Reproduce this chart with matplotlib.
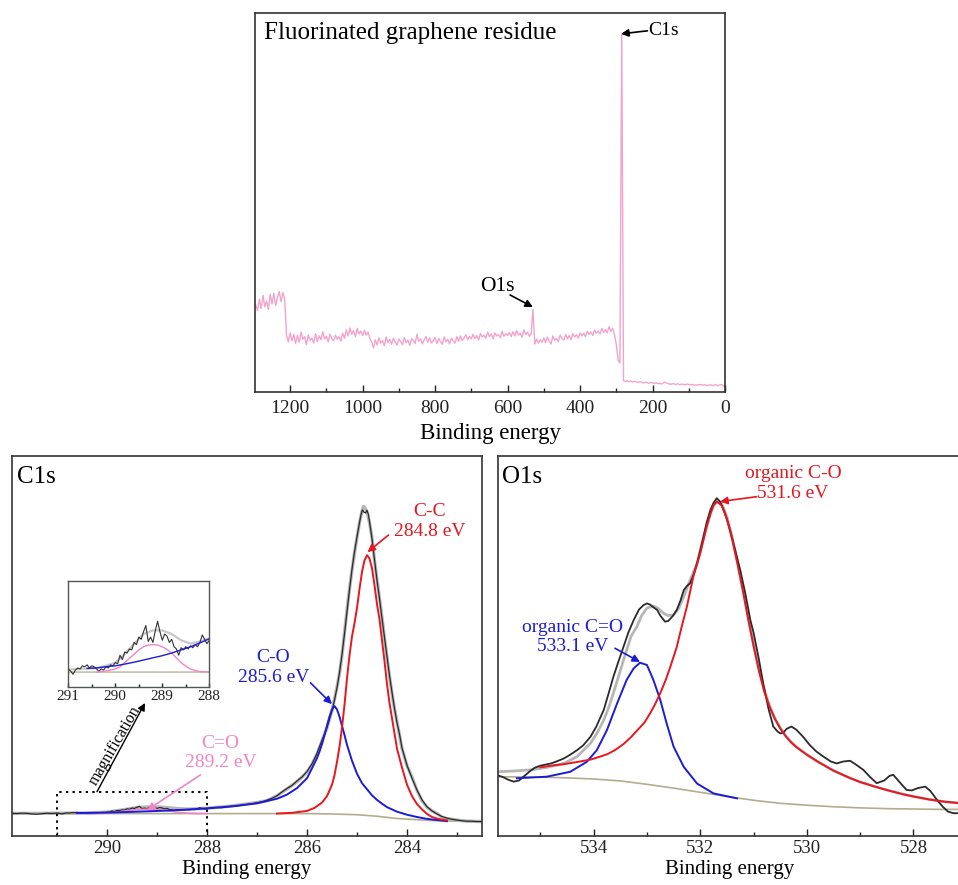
import numpy as np
import matplotlib
matplotlib.use("Agg")
import matplotlib.pyplot as plt
from matplotlib.ticker import MultipleLocator

plt.rcParams['font.family'] = ['Liberation Serif', 'DejaVu Serif']

# ---- survey spectrum (5 eV steps, 1295 eV down to 0 eV) ----
survey_ev = np.arange(1295, -1, -5)
survey_counts = [
    23.0, 21.5, 24.5, 22.0, 25.5, 22.5, 24.0, 21.8, 25.8, 23.2, 26.0, 22.8, 25.0, 26.5, 23.8, 26.2, 24.5, 15.0, 13.2, 15.6,
    13.5, 15.2, 12.8, 14.9, 13.1, 15.8, 13.9, 14.6, 12.5, 15.1, 13.6, 14.2, 12.9, 15.4, 13.3, 14.8, 13.8, 15.9, 14.0, 14.7,
    13.2, 15.3, 14.1, 13.5, 15.0, 13.9, 14.6, 13.4, 15.5, 14.2, 16.4, 14.8, 16.9, 15.2, 16.2, 14.6, 16.8, 15.3, 16.1, 14.9,
    16.3, 15.0, 15.8, 14.1, 13.2, 11.6, 13.8, 12.4, 14.3, 12.9, 13.6, 12.2, 14.5, 13.0, 13.9, 12.6, 14.2, 13.1, 12.4, 14.0,
    13.3, 12.5, 14.4, 13.0, 13.7, 12.3, 14.1, 13.5, 12.8, 15.2, 13.4, 14.0, 12.7, 13.8, 14.6, 13.1, 14.3, 12.9, 13.6, 14.4,
    12.8, 14.1, 13.3, 12.6, 14.5, 13.2, 13.9, 12.7, 14.2, 13.5, 12.9, 14.6, 13.4, 14.8, 13.6, 14.3, 15.1, 13.8, 14.7, 14.0,
    15.2, 14.1, 14.9, 13.7, 15.4, 14.5, 15.0, 14.2, 15.8, 14.6, 15.3, 14.0, 15.6, 14.8, 15.1, 14.3, 16.0, 14.7, 15.4, 14.9,
    15.7, 14.6, 15.9, 14.8, 16.2, 15.0, 15.5, 14.4, 16.4, 15.1, 15.8, 14.7, 15.4, 21.8, 12.6, 14.0, 12.9, 13.8, 13.1, 14.3,
    13.0, 14.5, 13.4, 12.7, 14.8, 13.6, 14.2, 13.3, 15.0, 14.1, 13.7, 15.2, 14.0, 14.9, 13.8, 15.4, 14.5, 15.1, 14.2, 15.6,
    14.8, 15.5, 14.6, 16.0, 15.2, 15.8, 14.9, 16.4, 15.5, 16.1, 15.3, 16.8, 15.7, 16.5, 15.6, 17.2, 16.0, 16.8, 15.2, 12.5,
    8.5, 7.6, 94.6, 3.0, 2.8, 3.0, 2.7, 2.9, 2.6, 2.8, 2.7, 2.5, 2.7, 2.6, 2.4, 2.6, 2.5, 2.3, 2.5, 2.4,
    2.3, 2.4, 2.2, 2.3, 2.1, 2.4, 2.6, 2.3, 2.2, 2.0, 2.2, 2.1, 2.0, 2.2, 1.9, 2.1, 2.0, 1.9, 2.1, 2.0,
    1.9, 2.0, 1.8, 1.9, 1.8, 2.0, 1.9, 1.8, 1.9, 1.7, 1.8, 1.9, 1.7, 1.8, 1.9, 1.7, 1.8, 2.0, 1.6, 1.2,
]

# ---- C1s high resolution ----
c1s_raw_ev = [291.9, 291.8, 291.7, 291.6, 291.5, 291.4, 291.3, 291.2, 291.1,
              291.0, 290.95, 290.9, 290.85, 290.8, 290.75, 290.7, 290.65, 290.6, 290.55,
              290.5, 290.45, 290.4, 290.35, 290.3, 290.25, 290.2, 290.15, 290.1, 290.05,
              290.0, 289.95, 289.9, 289.85, 289.8, 289.75, 289.7, 289.65, 289.6, 289.55,
              289.5, 289.45, 289.4, 289.35, 289.3, 289.25, 289.2, 289.15, 289.1, 289.05,
              289.0, 288.95, 288.9, 288.85, 288.8, 288.75, 288.7, 288.65, 288.6, 288.55,
              288.5, 288.45, 288.4, 288.35, 288.3, 288.25, 288.2, 288.15, 288.1, 288.05,
              288.0, 287.9, 287.8, 287.7, 287.6, 287.5, 287.4, 287.3, 287.2, 287.1,
              287.0, 286.9, 286.8, 286.7, 286.6, 286.5, 286.4, 286.3, 286.2, 286.1,
              286.0, 285.9, 285.8, 285.7, 285.6, 285.5, 285.45, 285.4, 285.35, 285.3,
              285.25, 285.2, 285.15, 285.1, 285.05, 285.0, 284.95, 284.92, 284.89, 284.86,
              284.83, 284.8, 284.77, 284.75, 284.7, 284.65, 284.6, 284.55, 284.5, 284.45,
              284.4, 284.35, 284.3, 284.25, 284.2, 284.15, 284.1, 284.0, 283.9, 283.8,
              283.7, 283.6, 283.5, 283.4, 283.3, 283.2, 283.1, 283.0, 282.9, 282.8,
              282.7, 282.6, 282.5]
c1s_raw = [5.95, 5.90, 6.02, 5.96, 5.80, 5.74, 5.88, 6.00, 5.92,
           6.03, 5.94, 5.81, 5.98, 6.07, 6.03, 6.16, 6.12, 6.20, 6.07,
           6.16, 6.12, 6.03, 5.94, 6.03, 5.98, 6.12, 6.07, 6.20, 6.16,
           6.29, 6.25, 6.60, 6.42, 6.73, 6.69, 6.86, 6.82, 7.13, 7.04,
           7.35, 7.26, 7.57, 7.83, 7.17, 7.35, 7.13, 7.61, 8.01, 7.57,
           7.22, 7.48, 7.39, 7.13, 7.26, 6.95, 6.86, 6.60, 6.91, 6.82,
           6.95, 6.86, 6.99, 6.91, 7.04, 6.95, 7.13, 7.44, 7.26, 7.08,
           7.22, 7.35, 7.50, 7.45, 7.70, 7.85, 7.90, 8.15, 8.30, 8.50,
           8.75, 9.00, 9.45, 9.90, 10.6, 11.6, 12.5, 13.3, 14.5, 15.5,
           17.0, 19.0, 21.8, 25.2, 28.5, 33.0, 35.8, 39.0, 43.0, 47.8,
           53.2, 59.0, 64.8, 70.2, 74.8, 78.8, 82.5, 84.6, 85.8, 85.2,
           85.0, 85.7, 84.5, 82.8, 78.2, 72.8, 67.2, 62.5, 57.2, 52.2,
           47.2, 42.2, 37.8, 33.6, 29.8, 26.8, 23.2, 18.6, 15.2, 12.1,
           9.5, 7.7, 6.6, 5.8, 5.1, 4.7, 4.4, 4.2, 4.0, 3.9,
           3.9, 3.8, 3.8]

c1s_env_ev = [291.9, 291.5, 291.0, 290.6, 290.4, 290.2, 290.0, 289.8, 289.6, 289.4,
              289.2, 289.0, 288.8, 288.6, 288.4, 288.2, 288.0, 287.5, 287.0, 286.8,
              286.6, 286.4, 286.2, 286.0, 285.9, 285.8, 285.7, 285.6, 285.5, 285.45,
              285.4, 285.35, 285.3, 285.25, 285.2, 285.15, 285.1, 285.05, 285.0, 284.95,
              284.9, 284.87, 284.85, 284.8, 284.75, 284.7, 284.65, 284.6, 284.55, 284.5,
              284.45, 284.4, 284.35, 284.3, 284.25, 284.2, 284.15, 284.1, 284.0, 283.9,
              283.8, 283.7, 283.6, 283.5, 283.4, 283.3, 283.2, 283.0, 282.8, 282.5]
c1s_env = [5.95, 5.95, 6.00, 6.05, 6.07, 6.16, 6.29, 6.64, 7.08, 7.48,
           7.63, 7.63, 7.48, 7.22, 7.08, 7.17, 7.30, 7.90, 8.80, 9.30,
           10.6, 12.4, 14.3, 16.8, 18.8, 21.5, 25.0, 28.5, 33.0, 36.0,
           39.2, 42.8, 47.5, 53.5, 59.5, 65.0, 70.0, 74.5, 78.5, 82.5,
           85.5, 86.7, 86.6, 85.3, 82.5, 78.5, 72.5, 67.5, 62.5, 57.5,
           52.0, 47.0, 42.0, 37.5, 33.5, 30.0, 26.5, 23.0, 18.5, 15.5,
           12.0, 9.3, 7.6, 6.6, 5.9, 5.0, 4.6, 4.2, 3.9, 3.8]

cc_ev = [286.6, 286.3, 286.0, 285.85, 285.7, 285.6, 285.5, 285.45, 285.4, 285.35,
         285.3, 285.25, 285.2, 285.15, 285.1, 285.05, 285.0, 284.95, 284.9, 284.85,
         284.8, 284.75, 284.7, 284.65, 284.6, 284.55, 284.5, 284.45, 284.4, 284.35,
         284.3, 284.25, 284.2, 284.1, 284.0, 283.9, 283.8, 283.7, 283.6, 283.5,
         283.4, 283.3, 283.2]
cc = [5.9, 6.1, 6.6, 7.4, 8.8, 10.5, 13.5, 16.0, 19.5, 23.5,
      28.5, 34.5, 41.5, 47.5, 52.5, 56.0, 60.0, 65.0, 69.5, 72.5,
      73.9, 73.0, 70.5, 66.0, 61.0, 57.0, 51.5, 46.0, 40.0, 35.0,
      31.0, 27.0, 23.0, 18.0, 13.5, 10.5, 8.4, 7.0, 5.8, 5.0,
      4.6, 4.3, 4.1]

co_ev = [290.6, 290.4, 290.2, 290.0, 289.8, 289.6, 289.4, 289.2, 289.0, 288.8,
         288.6, 288.4, 288.2, 288.0, 287.5, 287.0, 286.8, 286.6, 286.4, 286.2,
         286.0, 285.9, 285.8, 285.75, 285.7, 285.65, 285.6, 285.55, 285.5, 285.45,
         285.4, 285.35, 285.3, 285.25, 285.2, 285.1, 285.0, 284.9, 284.8, 284.7,
         284.6, 284.5, 284.4, 284.2, 284.0, 283.8, 283.6, 283.4, 283.2]
co = [6.05, 6.07, 6.12, 6.16, 6.23, 6.31, 6.40, 6.49, 6.58, 6.69,
      6.82, 6.95, 7.11, 7.28, 7.80, 8.60, 9.20, 9.80, 10.9, 12.6,
      15.2, 17.8, 20.5, 22.2, 24.2, 26.6, 29.0, 31.4, 33.3, 34.2,
      33.3, 31.4, 29.0, 26.6, 24.0, 19.8, 16.4, 13.9, 12.3, 10.7,
      9.5, 8.5, 7.6, 6.4, 5.6, 5.0, 4.5, 4.2, 3.9]

c_o_double_ev = [290.4, 290.2, 290.0, 289.9, 289.8, 289.7, 289.6, 289.5, 289.4, 289.3,
                 289.2, 289.1, 289.0, 288.9, 288.8, 288.7, 288.6, 288.5, 288.4, 288.3,
                 288.2, 288.0]
c_o_double = [5.90, 5.94, 6.03, 6.12, 6.29, 6.47, 6.64, 6.82, 6.95, 7.02,
              7.04, 7.02, 6.95, 6.84, 6.69, 6.49, 6.29, 6.14, 6.03, 5.96,
              5.92, 5.90]

c1s_bg_ev = [291.9, 286.0, 285.5, 285.0, 284.6, 284.2, 283.8, 283.4, 283.0, 282.5]
c1s_bg = [5.9, 5.9, 5.8, 5.6, 5.2, 4.6, 4.3, 4.0, 3.9, 3.8]

# ---- O1s high resolution ----
o1s_raw_ev = [535.81, 535.7, 535.6, 535.5, 535.4, 535.3, 535.2, 535.1, 535.0, 534.9,
              534.8, 534.7, 534.56, 534.45, 534.31, 534.2, 534.06, 533.95, 533.81, 533.72,
              533.63, 533.54, 533.44, 533.35, 533.25, 533.15, 533.06, 533.0, 532.94, 532.88,
              532.81, 532.75, 532.66, 532.6, 532.52, 532.44, 532.37, 532.31, 532.25, 532.19,
              532.12, 532.06, 532.0, 531.94, 531.88, 531.81, 531.75, 531.69, 531.63, 531.55,
              531.44, 531.35, 531.25, 531.15, 531.06, 531.0, 530.9, 530.82, 530.72, 530.63,
              530.55, 530.5, 530.44, 530.38, 530.29, 530.2, 530.07, 529.95, 529.82, 529.69,
              529.55, 529.44, 529.32, 529.19, 529.08, 528.94, 528.82, 528.69, 528.55, 528.45,
              528.38, 528.28, 528.13, 528.03, 527.92, 527.78, 527.68, 527.56, 527.45, 527.35,
              527.25, 527.1]
o1s_raw = [16.0, 15.5, 14.8, 14.3, 14.6, 15.8, 17.0, 18.0, 18.5, 18.8,
           19.1, 19.6, 20.4, 21.3, 22.6, 23.8, 26.1, 28.8, 33.2, 37.5,
           41.9, 45.7, 49.8, 53.5, 56.8, 59.6, 60.8, 61.2, 60.9, 60.2,
           59.5, 58.0, 56.4, 56.6, 57.8, 59.5, 62.0, 64.7, 65.8, 66.5,
           69.0, 71.8, 75.2, 78.8, 82.5, 85.8, 87.7, 88.9, 88.0, 85.5,
           80.5, 75.5, 70.0, 63.5, 56.8, 53.5, 46.5, 40.2, 33.5, 28.8,
           27.5, 27.0, 27.2, 28.2, 28.8, 28.0, 26.1, 24.0, 22.2, 20.9,
           19.6, 19.1, 19.6, 19.8, 18.8, 17.4, 15.6, 13.9, 14.6, 15.8,
           16.1, 14.5, 12.1, 12.0, 12.6, 13.0, 11.8, 9.5, 7.7, 6.4,
           6.0, 6.0]

o1s_env_ev = [535.81, 535.5, 535.19, 534.9, 534.56, 534.31, 534.06, 533.94, 533.81, 533.7,
              533.63, 533.5, 533.44, 533.3, 533.19, 533.1, 533.0, 532.88, 532.8, 532.69,
              532.6, 532.5, 532.4, 532.31, 532.2, 532.06, 531.95, 531.81, 531.75, 531.69,
              531.6, 531.5, 531.4, 531.3, 531.2, 531.1, 531.0, 530.9, 530.8, 530.7,
              530.6, 530.5, 530.4, 530.3, 530.2, 530.0, 529.8, 529.5, 529.2, 529.0,
              528.7, 528.5, 528.2, 528.0, 527.7, 527.4, 527.1]
o1s_env = [16.9, 17.1, 17.4, 18.0, 19.1, 20.9, 24.4, 27.0, 30.5, 34.5,
           37.6, 43.5, 46.3, 52.5, 55.1, 58.0, 60.0, 60.5, 60.0, 58.6,
           58.0, 58.2, 60.0, 63.0, 67.0, 71.8, 78.0, 84.9, 86.8, 88.0,
           87.5, 84.0, 78.5, 72.0, 65.0, 57.5, 50.5, 44.0, 38.5, 34.3,
           31.0, 28.5, 26.4, 24.8, 23.5, 21.4, 19.6, 17.2, 15.3, 14.2,
           12.9, 12.1, 11.0, 10.4, 9.6, 9.0, 8.6]

org_co_ev = [535.0, 534.8, 534.56, 534.3, 534.06, 533.9, 533.75, 533.6, 533.44, 533.3,
             533.19, 533.05, 532.94, 532.85, 532.75, 532.65, 532.56, 532.5, 532.44, 532.35,
             532.25, 532.13, 532.0, 531.88, 531.8, 531.75, 531.69, 531.6, 531.5, 531.4,
             531.3, 531.2, 531.1, 531.0, 530.9, 530.8, 530.7, 530.6, 530.5, 530.4,
             530.3, 530.2, 530.0, 529.8, 529.5, 529.2, 529.0, 528.7, 528.5, 528.2,
             528.0, 527.7, 527.4, 527.1]
org_co = [18.1, 18.5, 18.9, 19.5, 20.1, 20.8, 21.5, 22.6, 24.2, 26.0,
          27.7, 29.8, 32.3, 34.6, 37.6, 41.0, 44.6, 47.2, 49.8, 55.0,
          60.4, 68.3, 74.4, 81.4, 85.2, 87.1, 88.0, 87.0, 83.5, 78.0,
          71.5, 64.5, 57.0, 50.0, 43.5, 38.0, 34.0, 30.8, 28.3, 26.3,
          24.7, 23.4, 21.4, 19.6, 17.2, 15.3, 14.2, 12.9, 12.1, 11.0,
          10.4, 9.6, 9.0, 8.6]

org_c_o_double_ev = [535.44, 534.88, 534.44, 534.13, 533.94, 533.75, 533.56, 533.38, 533.25, 533.13,
                     533.0, 532.88, 532.75, 532.63, 532.5, 532.31, 532.06, 531.75, 531.31]
org_c_o_double = [15.2, 15.6, 16.9, 19.5, 22.6, 27.9, 34.9, 41.1, 44.1, 45.6,
                  45.0, 41.1, 35.8, 29.6, 23.5, 18.2, 13.8, 11.2, 9.9]

o1s_bg_ev = [535.8, 535.0, 534.5, 534.0, 533.5, 533.0, 532.5, 532.0, 531.5, 531.0,
             530.5, 530.0, 529.5, 529.0, 528.5, 528.0, 527.5, 527.1]
o1s_bg = [15.6, 15.5, 15.3, 15.0, 14.5, 13.6, 12.6, 11.5, 10.4, 9.4,
          8.6, 8.1, 7.7, 7.4, 7.2, 7.1, 7.0, 7.0]

SURVEY_PINK = '#f4a3cd'
RED = '#e8161e'
BLUE = '#1c1cd6'
PINK = '#ef86c4'
GRAY = '#b6b6b6'
BLACK = '#2a2a2a'
OLIVE = '#b3ad8e'

W, H = 958, 885


def box(x0, y0, x1, y1):
    # pixel box (top-left origin) -> figure fraction rect
    return [x0 / W, 1 - y1 / H, (x1 - x0) / W, (y1 - y0) / H]


def style(ax, major, minor, size=14, pad=6):
    ax.set_yticks([])
    ax.xaxis.set_major_locator(MultipleLocator(major))
    ax.xaxis.set_minor_locator(MultipleLocator(minor))
    ax.tick_params(axis='x', which='both', direction='in', top=False,
                   labelsize=size, pad=pad, colors='#222')
    ax.tick_params(axis='x', which='major', length=5, width=1)
    ax.tick_params(axis='x', which='minor', length=3, width=1)
    for s in ax.spines.values():
        s.set_linewidth(1.2)
        s.set_color('#333')


def arrow(ax, tip, tail, color='k'):
    ax.annotate('', xy=tip, xytext=tail,
                arrowprops=dict(arrowstyle='-|>', color=color, lw=1.2,
                                mutation_scale=11, shrinkA=0, shrinkB=0))


fig = plt.figure(figsize=(W / 100, H / 100), dpi=100)
ax_s = fig.add_axes(box(255, 13, 725, 392))
ax_c = fig.add_axes(box(12, 456, 482, 836))
ax_o = fig.add_axes(box(497.7, 456, 962, 836))
ax_in = fig.add_axes(box(68.3, 581, 209.3, 687))

# survey
ax_s.plot(survey_ev, survey_counts, color=SURVEY_PINK, lw=1)
ax_s.set_xlim(1297, 0)
ax_s.set_ylim(0, 100)
style(ax_s, 200, 100)
ax_s.set_xlabel('Binding energy', fontsize=16.5)
ax_s.xaxis.set_label_coords(0.5, -0.082)
ax_s.text(0.019, 0.947, 'Fluorinated graphene residue', transform=ax_s.transAxes,
          fontsize=18, ha='left', va='center')
arrow(ax_s, (287, 94.5), (214, 95.3))
ax_s.text(212, 95.5, 'C1s', fontsize=14, ha='left', va='center')
arrow(ax_s, (530, 22.4), (593, 25.6))
ax_s.text(629, 27.9, 'O1s', fontsize=15.5, ha='center', va='center')

# C1s
ax_c.plot(c1s_bg_ev, c1s_bg, color=OLIVE, lw=1.2)
ax_c.plot(c1s_env_ev, c1s_env, color=GRAY, lw=2.4)
ax_c.plot(c1s_raw_ev, c1s_raw, color=BLACK, lw=0.9)
ax_c.plot(c_o_double_ev, c_o_double, color=PINK, lw=1.2)
ax_c.plot(co_ev, co, color=BLUE, lw=1.4)
ax_c.plot(cc_ev, cc, color=RED, lw=1.4)
ax_c.set_xlim(291.9, 282.5)
ax_c.set_ylim(0, 100)
style(ax_c, 2, 1, size=13.5, pad=3)
ax_c.set_xlabel('Binding energy', fontsize=15)
ax_c.xaxis.set_label_coords(0.5, -0.064)
ax_c.text(0.011, 0.945, 'C1s', transform=ax_c.transAxes, fontsize=18,
          ha='left', va='center')
ax_c.plot([291, 291, 288, 288], [0, 11.66, 11.66, 0], color='k', lw=1.4,
          ls=(0, (1.2, 2.2)))
arrow(ax_c, (284.79, 74.7), (284.37, 79.2), RED)
ax_c.text(283.55, 82.8, 'C-C\n284.8 eV', fontsize=14, color=RED,
          ha='center', va='center', linespacing=1.2)
arrow(ax_c, (285.5, 34.7), (285.93, 40.3), BLUE)
ax_c.text(286.67, 44.3, 'C-O\n285.6 eV', fontsize=14, color=BLUE,
          ha='center', va='center', linespacing=1.2)
arrow(ax_c, (289.2, 6.8), (288.13, 16.1), PINK)
ax_c.text(287.73, 21.8, 'C=O\n289.2 eV', fontsize=14, color=PINK,
          ha='center', va='center', linespacing=1.2)
ax_c.annotate('', xy=(289.24, 35), xytext=(290.2, 11.66),
              arrowprops=dict(arrowstyle='-|>', color='k', lw=1,
                              mutation_scale=11, shrinkA=0, shrinkB=0))
ax_c.text(289.84, 23.9, 'magnification', rotation=60, fontsize=11.5,
          ha='center', va='center')

# inset (same data, magnified)
ax_in.plot(c1s_bg_ev, c1s_bg, color=OLIVE, lw=0.9)
ax_in.plot(c1s_env_ev, c1s_env, color='#c8c8c8', lw=1.6)
ax_in.plot(c1s_raw_ev, c1s_raw, color='#333333', lw=0.8)
ax_in.plot(c_o_double_ev, c_o_double, color=PINK, lw=1.0)
ax_in.plot(co_ev, co, color=BLUE, lw=1.0)
ax_in.set_xlim(291, 288)
ax_in.set_ylim(5.28, 9.68)
style(ax_in, 1, 0.5, size=11, pad=2)
ax_in.tick_params(axis='x', which='major', length=3)
ax_in.tick_params(axis='x', which='minor', length=2)
for s in ax_in.spines.values():
    s.set_linewidth(1)
    s.set_color('#555')

# O1s
ax_o.plot(o1s_bg_ev, o1s_bg, color=OLIVE, lw=1.2)
ax_o.plot(o1s_env_ev, o1s_env, color=GRAY, lw=2.0)
ax_o.plot(o1s_raw_ev, o1s_raw, color=BLACK, lw=1.3)
ax_o.plot(org_c_o_double_ev, org_c_o_double, color=BLUE, lw=1.4)
ax_o.plot(org_co_ev, org_co, color=RED, lw=1.4)
ax_o.set_xlim(535.8, 527.09)
ax_o.set_ylim(0, 100)
style(ax_o, 2, 1, size=13.5, pad=3)
ax_o.set_xlabel('Binding energy', fontsize=15)
ax_o.xaxis.set_label_coords(0.5, -0.064)
ax_o.text(0.009, 0.945, 'O1s', transform=ax_o.transAxes, fontsize=18,
          ha='left', va='center')
arrow(ax_o, (531.63, 88.0), (530.94, 89.3), RED)
ax_o.text(530.26, 92.8, 'organic C-O\n531.6 eV', fontsize=14, color=RED,
          ha='center', va='center', linespacing=1.2)
arrow(ax_o, (533.13, 45.8), (533.6, 49.4), BLUE)
ax_o.text(534.4, 52.4, 'organic C=O\n533.1 eV', fontsize=14, color=BLUE,
          ha='center', va='center', linespacing=1.2)

fig.savefig('out.png', dpi=100)
